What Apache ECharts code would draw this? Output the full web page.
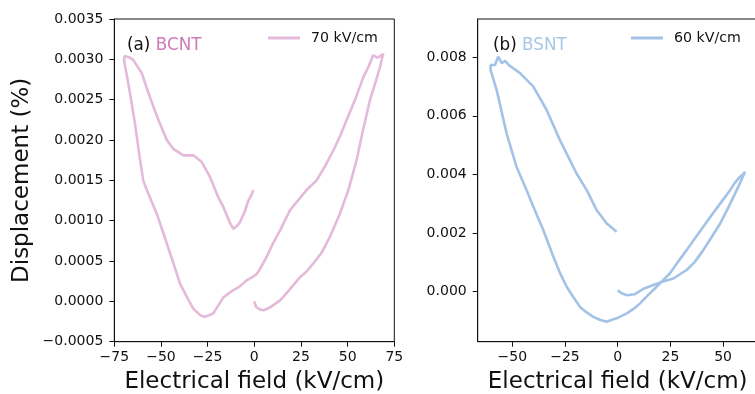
<!DOCTYPE html>
<html>
<head>
<meta charset="utf-8">
<script src="https://cdn.jsdelivr.net/npm/echarts@6/dist/echarts.min.js"></script>
<style>html,body{margin:0;padding:0;background:#fff}#c{width:755px;height:394px}</style>
</head>
<body>
<div id="c"></div>
<script>
// BCNT loop, 70 kV/cm
const bcntField = [0,1,3,5,8,13.7,18,24.5,28,31.6,36,40.5,45.9,50.4,54.8,58,62,65,67.3,68.5,69.1,68,66,63.7,61,58.4,54,49.5,46,42.3,38,33.4,28,23,19.1,13.8,10,6.6,3,1.3,-1,-4.1,-8,-11.2,-16.6,-19,-22,-25,-27.3,-29,-32.7,-36,-39.8,-43,-46.9,-52.3,-57.6,-59.5,-61.5,-63.9,-66,-67.5,-69.8,-69.5,-68.7,-66.5,-64.8,-60.3,-55.9,-51.4,-46.9,-43.4,-38,-32.7,-28.2,-23.7,-19.3,-16.6,-13,-11.2,-9.5,-7.7,-5,-3.2,-1.5,-0.5];
const bcntDisp = [0,-0.00007,-0.0001,-0.00011,-0.00008,0.00001,0.00012,0.0003,0.00037,0.00047,0.0006,0.0008,0.00109,0.00138,0.00175,0.0021,0.0025,0.00272,0.0029,0.00302,0.00307,0.00305,0.00302,0.00305,0.0029,0.00278,0.0025,0.00225,0.00205,0.00187,0.00168,0.0015,0.00138,0.00124,0.00113,0.00088,0.00072,0.00055,0.0004,0.00034,0.0003,0.00026,0.00018,0.00014,0.00005,-0.00004,-0.00015,-0.00018,-0.00019,-0.00017,-0.00009,0.00005,0.00022,0.00045,0.00072,0.00109,0.00138,0.0015,0.0018,0.0022,0.0025,0.0027,0.00299,0.00304,0.00306,0.00302,0.00299,0.00283,0.00253,0.00225,0.002,0.00189,0.00181,0.00181,0.00173,0.00154,0.00129,0.00117,0.00097,0.0009,0.00093,0.00098,0.00112,0.00125,0.00132,0.00138];
// BSNT loop, 60 kV/cm
const bsntField = [0,1.5,4.3,8,12,16.9,22,26.4,32.7,36.5,40.6,44.5,48.6,52,54.9,58,60.4,59.5,58,55.5,53.3,48.6,44.5,40.6,36.5,32.7,28.5,24.8,18.5,14.5,10.6,7.5,4.3,-0.5,-3,-5.3,-8.5,-11.6,-14.7,-17.9,-21,-24.2,-27.5,-30.5,-35.3,-40,-43.2,-48,-52.7,-57.4,-60.3,-60.3,-58.2,-56.7,-55,-53.4,-51.7,-46.2,-40,-33.7,-27.4,-19.5,-14.7,-10,-5.2,-0.5];
const bsntDisp = [0.00004,-0.00005,-0.00013,-0.0001,0.00008,0.00022,0.00035,0.00044,0.00073,0.001,0.00141,0.00185,0.00232,0.0028,0.00323,0.0037,0.00409,0.004,0.00392,0.0037,0.00346,0.003,0.0026,0.00221,0.0018,0.00141,0.001,0.00062,0.00016,-0.00012,-0.00041,-0.0006,-0.00075,-0.00092,-0.00098,-0.00104,-0.00097,-0.00087,-0.00072,-0.00053,-0.0002,0.00016,0.00065,0.00118,0.0021,0.00289,0.00346,0.00426,0.0054,0.00688,0.00757,0.00774,0.00774,0.00802,0.0078,0.00788,0.00774,0.00745,0.007,0.0062,0.00517,0.00403,0.00346,0.00278,0.00232,0.00204];
const ticksXA = [-75,-50,-25,0,25,50,75];
const ticksXB = [-50,-25,0,25,50];
const ticksYB = [0,0.002,0.004,0.006,0.008];
const seriesNames = ['70 kV/cm','60 kV/cm'];
const panelLabels = ['(a)','(b)'];
const materials = ['BCNT','BSNT'];

const pink = '#e4b9da', blue = '#a3c3e6';
const FONT = 'DejaVu Sans';
const tickFont = {fontFamily:FONT, fontSize:14, color:'#111'};
const titleFont = {fontFamily:FONT, fontSize:23, color:'#111'};
const fmtMinus = v => String(v).replace('-', '\u2212');

const chart = echarts.init(document.getElementById('c'), null, {renderer:'canvas'});
function pairs(xs, ys){ return xs.map((x,i)=>[x, ys[i]]); }
const axisLine = {show:true, onZero:false, lineStyle:{color:'#111', width:1}};
const tick = (vals) => { const t = {show:true, length:5, lineStyle:{color:'#111', width:1}}; if (vals) t.customValues = vals; return t; };
chart.setOption({
  animation:false,
  grid:[
    {left:114.3, top:19, width:280, height:322.7, show:true, borderColor:'#111', borderWidth:1, containLabel:false, outerBoundsMode:'none'},
    {left:477.7, top:19, width:280, height:322.7, show:true, borderColor:'#111', borderWidth:1, containLabel:false, outerBoundsMode:'none'}
  ],
  xAxis:[
    {type:'value', gridIndex:0, min:-75, max:75, interval:25, axisLine, splitLine:{show:false},
      name:'Electrical field (kV/cm)', nameLocation:'middle', nameGap:29, nameTextStyle:titleFont,
      axisLabel:Object.assign({}, tickFont, {margin:9, formatter:fmtMinus, customValues:ticksXA}),
      axisTick:tick(ticksXA)},
    {type:'value', gridIndex:1, min:-66.4, max:66.4, axisLine, splitLine:{show:false},
      name:'Electrical field (kV/cm)', nameLocation:'middle', nameGap:29, nameTextStyle:titleFont,
      axisLabel:Object.assign({}, tickFont, {margin:9, formatter:fmtMinus, customValues:ticksXB}),
      axisTick:tick(ticksXB)}
  ],
  yAxis:[
    {type:'value', gridIndex:0, min:-0.0005, max:0.0035, interval:0.0005, axisLine, splitLine:{show:false},
      name:'Displacement (%)', nameLocation:'middle', nameGap:81, nameTextStyle:titleFont,
      axisLabel:Object.assign({}, tickFont, {margin:11, formatter:v=>fmtMinus(v.toFixed(4))}),
      axisTick:tick()},
    {type:'value', gridIndex:1, min:-0.00172, max:0.00931, axisLine, splitLine:{show:false},
      axisLabel:Object.assign({}, tickFont, {margin:11, formatter:v=>fmtMinus(v.toFixed(3)), customValues:ticksYB}),
      axisTick:tick(ticksYB)}
  ],
  legend:[
    {data:[seriesNames[0]], left:268, top:31, padding:0, icon:'rect', itemWidth:32, itemHeight:3,
      textStyle:{fontFamily:FONT, fontSize:14.2, color:'#111', padding:[0,0,0,6]}},
    {data:[seriesNames[1]], left:631, top:31, padding:0, icon:'rect', itemWidth:32, itemHeight:3,
      textStyle:{fontFamily:FONT, fontSize:14.2, color:'#111', padding:[0,0,0,6]}}
  ],
  graphic:[
    {type:'text', left:127, top:37, style:{text:panelLabels[0] + ' {m|' + materials[0] + '}', font:'16.8px "DejaVu Sans"', fill:'#111',
      rich:{m:{fill:'#cf7ab9', font:'16.8px "DejaVu Sans"'}}}},
    {type:'text', left:493, top:37, style:{text:panelLabels[1] + ' {m|' + materials[1] + '}', font:'16.8px "DejaVu Sans"', fill:'#111',
      rich:{m:{fill:'#a6c6e8', font:'16.8px "DejaVu Sans"'}}}}
  ],
  series:[
    {name:seriesNames[0], type:'line', xAxisIndex:0, yAxisIndex:0, data:pairs(bcntField,bcntDisp),
      showSymbol:false, lineStyle:{color:pink, width:2.6}, itemStyle:{color:pink}},
    {name:seriesNames[1], type:'line', xAxisIndex:1, yAxisIndex:1, data:pairs(bsntField,bsntDisp),
      showSymbol:false, lineStyle:{color:blue, width:2.6}, itemStyle:{color:blue}}
  ]
});
</script>
</body>
</html>
